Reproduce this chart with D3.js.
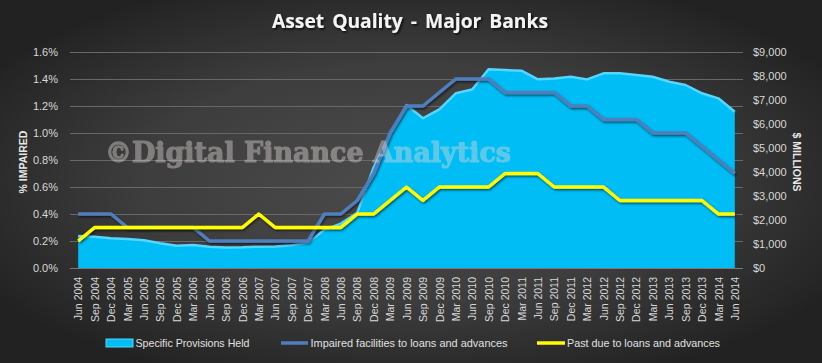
<!DOCTYPE html>
<html>
<head>
<meta charset="utf-8">
<script src="https://cdn.jsdelivr.net/npm/d3@7/dist/d3.min.js"></script>
<style>
html,body{margin:0;padding:0;background:#2b2b2b;}
svg{display:block;}
</style>
</head>
<body>
<svg id="chart" width="822" height="363" font-family="'Liberation Sans',Arial,sans-serif"></svg>
<script>
// ---------- data ----------
const categories = [
 "Jun 2004","Sep 2004","Dec 2004","Mar 2005","Jun 2005","Sep 2005","Dec 2005","Mar 2006",
 "Jun 2006","Sep 2006","Dec 2006","Mar 2007","Jun 2007","Sep 2007","Dec 2007","Mar 2008",
 "Jun 2008","Sep 2008","Dec 2008","Mar 2009","Jun 2009","Sep 2009","Dec 2009","Mar 2010",
 "Jun 2010","Sep 2010","Dec 2010","Mar 2011","Jun 2011","Sep 2011","Dec 2011","Mar 2012",
 "Jun 2012","Sep 2012","Dec 2012","Mar 2013","Jun 2013","Sep 2013","Dec 2013","Mar 2014","Jun 2014"
];
// Specific Provisions Held ($ millions, right axis)
const provisions = [
 1330,1300,1240,1210,1160,1030,930,960,
 890,850,860,890,900,950,1050,1600,
 1850,2300,4200,5540,6790,6240,6610,7280,
 7440,8280,8250,8220,7860,7900,7970,7860,
 8110,8110,8040,7970,7760,7625,7280,7070,6510
];
// Impaired facilities to loans and advances (% , left axis)
const impaired = [
 0.4,0.4,0.4,0.3,0.3,0.3,0.3,0.3,
 0.2,0.2,0.2,0.2,0.2,0.2,0.2,0.4,
 0.4,0.5,0.7,1.0,1.2,1.2,1.3,1.4,
 1.4,1.4,1.3,1.3,1.3,1.3,1.2,1.2,
 1.1,1.1,1.1,1.0,1.0,1.0,0.9,0.8,0.7
];
// Past due to loans and advances (% , left axis)
const pastDue = [
 0.2,0.3,0.3,0.3,0.3,0.3,0.3,0.3,
 0.3,0.3,0.3,0.4,0.3,0.3,0.3,0.3,
 0.3,0.4,0.4,0.5,0.6,0.5,0.6,0.6,
 0.6,0.6,0.7,0.7,0.7,0.6,0.6,0.6,
 0.6,0.5,0.5,0.5,0.5,0.5,0.5,0.4,0.4
];
const leftTicks = [0,0.2,0.4,0.6,0.8,1.0,1.2,1.4,1.6];
const rightTicks = [0,1000,2000,3000,4000,5000,6000,7000,8000,9000];
const seriesNames = ["Specific Provisions Held","Impaired facilities to loans and advances","Past due to loans and advances"];

// ---------- layout ----------
const W = 822, H = 363;
const plot = {left:70, right:743, top:52, bottom:268};
const svg = d3.select("#chart");
const defs = svg.append("defs");

const bg = defs.append("radialGradient").attr("id","bg")
  .attr("cx","50%").attr("cy","50%").attr("r","60%");
bg.append("stop").attr("offset","0%").attr("stop-color","#4c4c4c");
bg.append("stop").attr("offset","55%").attr("stop-color","#3d3d3d");
bg.append("stop").attr("offset","100%").attr("stop-color","#222222");

const sh = defs.append("filter").attr("id","shadow")
  .attr("x","-5%").attr("y","-20%").attr("width","110%").attr("height","140%");
sh.append("feDropShadow").attr("dx",1).attr("dy",1.5).attr("stdDeviation",1)
  .attr("flood-color","#000").attr("flood-opacity",0.6);

const tsh = defs.append("filter").attr("id","tshadow")
  .attr("x","-5%").attr("y","-30%").attr("width","110%").attr("height","160%");
tsh.append("feDropShadow").attr("dx",1.5).attr("dy",1.5).attr("stdDeviation",1)
  .attr("flood-color","#000").attr("flood-opacity",0.8);

svg.append("rect").attr("width",W).attr("height",H).attr("fill","url(#bg)");

const x = d3.scalePoint().domain(categories).range([plot.left, plot.right]).padding(0.5);
const yL = d3.scaleLinear().domain([0,1.6]).range([plot.bottom, plot.top]);
const yR = d3.scaleLinear().domain([0,9000]).range([plot.bottom, plot.top]);

// gridlines
svg.append("g").selectAll("line").data(leftTicks).join("line")
  .attr("x1",plot.left).attr("x2",plot.right)
  .attr("y1",d=>yL(d)).attr("y2",d=>yL(d))
  .attr("stroke","#686868").attr("stroke-width",1).attr("shape-rendering","crispEdges");

// area
const area = d3.area().x((d,i)=>x(categories[i])).y0(yR(0)).y1(d=>yR(d));
const topLine = d3.line().x((d,i)=>x(categories[i])).y(d=>yR(d));
svg.append("path").datum(provisions).attr("d",area).attr("fill","#00bdf5");
svg.append("path").datum(provisions).attr("d",topLine).attr("fill","none")
  .attr("stroke","#55d6ff").attr("stroke-width",2.5).attr("stroke-linejoin","round");

// x axis line
svg.append("line").attr("x1",plot.left).attr("x2",plot.right)
  .attr("y1",plot.bottom+0.5).attr("y2",plot.bottom+0.5)
  .attr("stroke","#7a7a7a").attr("stroke-width",1);

// lines
const lineL = d3.line().x((d,i)=>x(categories[i])).y(d=>yL(d));
svg.append("path").datum(impaired).attr("d",lineL).attr("fill","none")
  .attr("stroke","#4f7ebd").attr("stroke-width",3.5).attr("stroke-linejoin","round")
  .attr("filter","url(#shadow)");
svg.append("path").datum(pastDue).attr("d",lineL).attr("fill","none")
  .attr("stroke","#ffff00").attr("stroke-width",3.5).attr("stroke-linejoin","round")
  .attr("filter","url(#shadow)");

// axes
const axisL = d3.axisLeft(yL).tickValues(leftTicks).tickSize(0).tickPadding(0)
  .tickFormat(d=>d.toFixed(1)+"%");
const gL = svg.append("g").attr("transform",`translate(${plot.left-12},0)`).call(axisL);
gL.select(".domain").remove();
gL.selectAll("text").attr("fill","#d8d8d8").style("font-size","11px")
  .style("font-family","'Liberation Sans',Arial,sans-serif");

const axisR = d3.axisRight(yR).tickValues(rightTicks).tickSize(0).tickPadding(0)
  .tickFormat(d=>"$"+d3.format(",")(d));
const gR = svg.append("g").attr("transform",`translate(${plot.right+10},0)`).call(axisR);
gR.select(".domain").remove();
gR.selectAll("text").attr("fill","#d8d8d8").style("font-size","11px")
  .style("font-family","'Liberation Sans',Arial,sans-serif");

const axisB = d3.axisBottom(x).tickSize(0).tickPadding(0);
const gB = svg.append("g").attr("transform",`translate(0,${plot.bottom})`).call(axisB);
gB.select(".domain").remove();
gB.selectAll("text")
  .attr("fill","#d8d8d8").style("font-size","10.5px")
  .style("font-family","'Liberation Sans',Arial,sans-serif")
  .attr("text-anchor","end").attr("dy","0.35em")
  .attr("transform","translate(0,9) rotate(-90)").attr("y",0).attr("x",0);

// axis titles
svg.append("text").attr("transform","translate(27,162) rotate(-90)")
  .attr("text-anchor","middle").attr("fill","#e8e8e8").attr("font-weight","bold")
  .style("font-size","10.5px").text("% IMPAIRED");
svg.append("text").attr("transform","translate(793,162) rotate(90)")
  .attr("text-anchor","middle").attr("fill","#e8e8e8").attr("font-weight","bold")
  .style("font-size","10.5px").text("$ MILLIONS");

// title
svg.append("text").attr("x",410).attr("y",28).attr("text-anchor","middle")
  .attr("fill","#f4f4f4").attr("font-weight","bold")
  .style("font-size","19px").style("font-family","'Open Sans',Arial,sans-serif")
  .style("word-spacing","3px")
  .attr("textLength",276).attr("lengthAdjust","spacingAndGlyphs")
  .attr("filter","url(#tshadow)")
  .text("Asset Quality  - Major Banks");

// watermark
svg.append("g").attr("opacity",0.42)
 .append("text").attr("x",105).attr("y",162)
  .attr("fill","#e2d8d8").attr("stroke","#e2d8d8").attr("stroke-width",1.1)
  .attr("stroke-linejoin","round")
  .style("font-family","'DejaVu Serif','Liberation Serif',Georgia,serif").attr("font-weight","bold")
  .style("font-size","28px").attr("textLength",406).attr("lengthAdjust","spacingAndGlyphs")
  .text("©Digital Finance Analytics");

// legend
const lg = svg.append("g").attr("fill","#e0e0e0").style("font-size","11px");
const ly = 343;
lg.append("rect").attr("x",106).attr("y",ly-4).attr("width",27).attr("height",8)
  .attr("fill","#00bdf5").attr("stroke","#55d6ff").attr("stroke-width",1);
lg.append("text").attr("x",135.5).attr("y",ly).attr("dy","0.35em")
  .attr("textLength",114).attr("lengthAdjust","spacingAndGlyphs").text(seriesNames[0]);
lg.append("line").attr("x1",281).attr("x2",308).attr("y1",ly).attr("y2",ly)
  .attr("stroke","#4f7ebd").attr("stroke-width",3.5);
lg.append("text").attr("x",310.5).attr("y",ly).attr("dy","0.35em")
  .attr("textLength",197).attr("lengthAdjust","spacingAndGlyphs").text(seriesNames[1]);
lg.append("line").attr("x1",537).attr("x2",565).attr("y1",ly).attr("y2",ly)
  .attr("stroke","#ffff00").attr("stroke-width",3.5);
lg.append("text").attr("x",567).attr("y",ly).attr("dy","0.35em")
  .attr("textLength",153).attr("lengthAdjust","spacingAndGlyphs").text(seriesNames[2]);
</script>
</body>
</html>
